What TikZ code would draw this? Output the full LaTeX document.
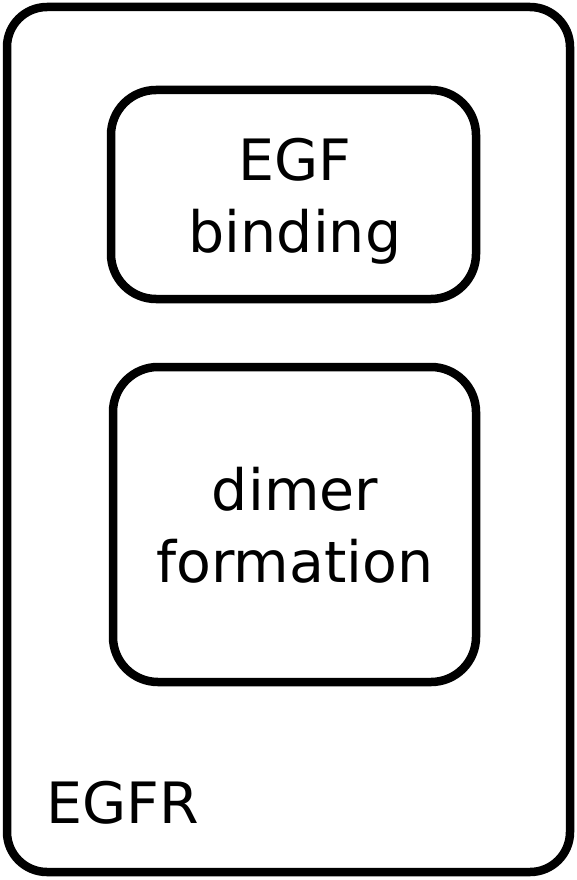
\documentclass[tikz,border=0pt]{standalone}
\usepackage{fontspec}
\setmainfont{DejaVu Sans}
\begin{document}
\begin{tikzpicture}[x=1pt,y=-1pt,
  box/.style={draw=black,line width=8.5pt},
  lbl/.style={font=\fontsize{57}{72}\selectfont,align=center,inner sep=0pt}]
\useasboundingbox (0,0) rectangle (577,880);
\draw[box,rounded corners=40pt] (7,7) rectangle (570,872);
\draw[box,rounded corners=45pt] (111,90) rectangle (476,299);
\draw[box,rounded corners=45pt] (113,367) rectangle (476,682);
\node[lbl] (egf) at (295,201) {EGF\\binding};
\node[lbl] (dimer) at (295,525) {dimer\\formation};
\node[lbl,anchor=base west] (egfr) at (46,823) {EGFR};
\end{tikzpicture}
\end{document}
